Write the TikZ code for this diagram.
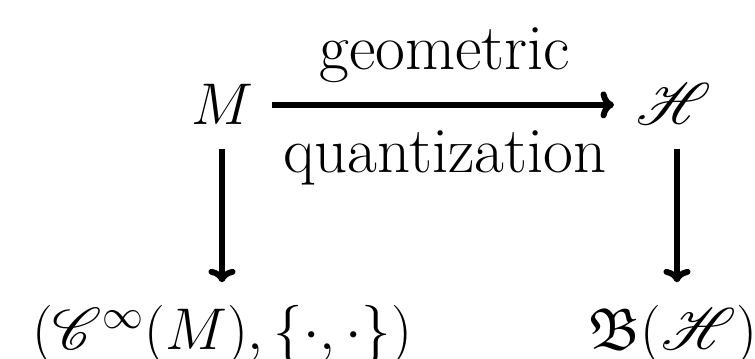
\documentclass[tikz,border=0pt]{standalone}
\usepackage{amssymb}
\usepackage{mathrsfs}
\usetikzlibrary{arrows.meta}

\newcommand{\cornermath}[1]{\scalebox{1.05}{$#1$}}

\begin{document}
\begin{tikzpicture}[
    x=0.37pt, y=0.37pt,
    math_format/.style={inner sep=0pt, anchor=base, font=\fontsize{20.74}{24}\selectfont},
    label_format/.style={inner sep=0pt, anchor=base, font=\fontsize{24}{28}\selectfont},
    arrow_format/.style={line width=2.2pt, -{To[length=5pt,width=10pt]}},
    ]
    \useasboundingbox (0,0) rectangle (755,359);

    % --- Place the four corners ---
    \node[math_format] (manifold) at (222,234) {\cornermath{M}};
    \node[math_format] (hilbert) at (674,234) {\cornermath{\mathscr{H}}};
    \node[math_format] (poisson) at (222,9) {\cornermath{(\mathscr{C}^\infty(M),\{\cdot,\cdot\})}};
    \node[math_format] (operators) at (673,9) {\cornermath{\mathfrak{B}(\mathscr{H})}};

    % --- Draw the arrows ---
    % Top arrow with its two labels
    \draw[arrow_format, shorten <=7pt, shorten >=8.2pt]
      (manifold.east) -- (manifold.east -| hilbert.west)
      node[label_format, midway, yshift=12.95pt] {geometric}
      node[label_format, midway, yshift=-25.2pt] {quantization};
    % Left and right arrows
    \draw[arrow_format, shorten <=8.5pt, shorten >=8.5pt]
      (manifold.south) -- (manifold.south |- poisson.north);
    \draw[arrow_format, shorten <=8.5pt, shorten >=8.5pt]
      ([xshift=1.1pt]hilbert.south) -- ([xshift=1.1pt]hilbert.south |- operators.north);

\end{tikzpicture}
\end{document}
